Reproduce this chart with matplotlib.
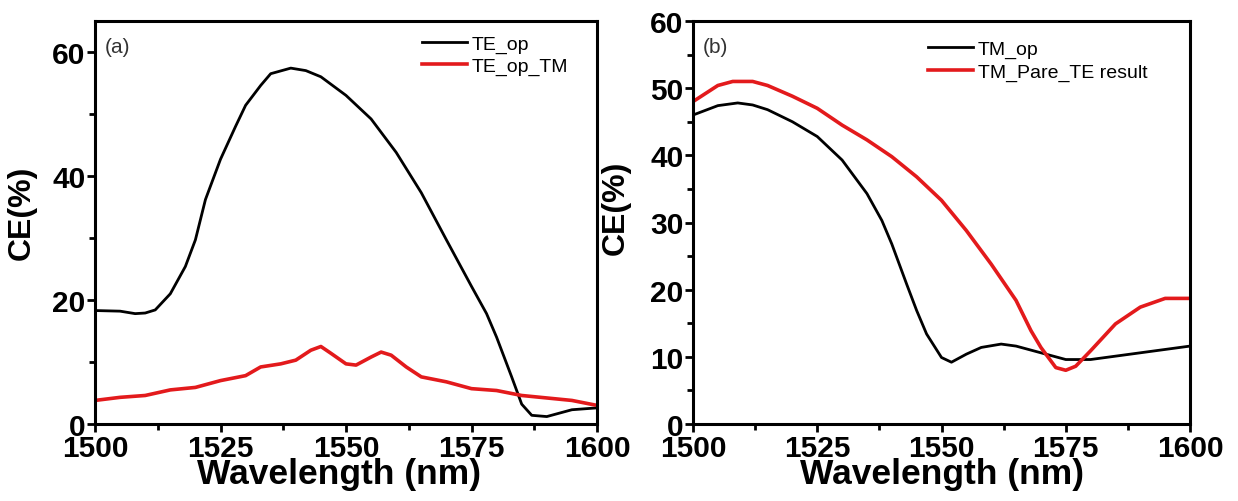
import matplotlib
matplotlib.use("Agg")
import matplotlib.pyplot as plt
from matplotlib.ticker import MultipleLocator

plt.rcParams['font.family'] = ['Liberation Sans', 'DejaVu Sans']

# Panel (a)
te_op_x = [1500, 1505, 1508, 1510, 1512, 1515, 1518, 1520, 1522, 1525, 1528, 1530, 1533, 1535,
           1539, 1542, 1545, 1550, 1555, 1560, 1565, 1570, 1575, 1578, 1580, 1583, 1585, 1587,
           1590, 1595, 1600]
te_op_y = [18.3, 18.2, 17.8, 17.9, 18.4, 21.0, 25.4, 29.7, 36.2, 42.7, 48.0, 51.4, 54.6, 56.5,
           57.4, 57.0, 56.0, 53.0, 49.2, 43.8, 37.3, 29.7, 22.2, 17.8, 14.0, 7.6, 3.2, 1.4,
           1.2, 2.3, 2.6]
te_op_tm_x = [1500, 1505, 1510, 1515, 1520, 1525, 1530, 1533, 1537, 1540, 1543, 1545, 1547, 1550,
              1552, 1555, 1557, 1559, 1562, 1565, 1570, 1575, 1580, 1585, 1590, 1595, 1600]
te_op_tm_y = [3.8, 4.3, 4.6, 5.5, 5.9, 7.0, 7.8, 9.2, 9.7, 10.3, 11.9, 12.5, 11.4, 9.7,
              9.5, 10.8, 11.6, 11.1, 9.2, 7.6, 6.8, 5.7, 5.4, 4.6, 4.2, 3.8, 3.0]

# Panel (b)
tm_op_x = [1500, 1505, 1509, 1512, 1515, 1520, 1525, 1530, 1535, 1538, 1540, 1543, 1545, 1547,
           1550, 1552, 1555, 1558, 1562, 1565, 1570, 1575, 1580, 1585, 1590, 1595, 1600]
tm_op_y = [46.0, 47.4, 47.8, 47.5, 46.8, 45.0, 42.8, 39.3, 34.3, 30.3, 26.8, 20.8, 16.9, 13.4,
           9.9, 9.2, 10.4, 11.4, 11.9, 11.6, 10.6, 9.6, 9.6, 10.1, 10.6, 11.1, 11.6]
tm_pare_x = [1500, 1505, 1508, 1512, 1515, 1520, 1525, 1530, 1535, 1540, 1545, 1550, 1555, 1560,
             1565, 1568, 1570, 1573, 1575, 1577, 1580, 1585, 1590, 1595, 1600]
tm_pare_y = [48.0, 50.4, 51.0, 51.0, 50.4, 48.8, 47.0, 44.5, 42.3, 39.8, 36.8, 33.3, 28.8, 23.8,
             18.4, 13.9, 11.4, 8.4, 8.0, 8.6, 10.9, 14.9, 17.4, 18.7, 18.7]

xticks = [1500, 1525, 1550, 1575, 1600]

fig = plt.figure(figsize=(12.38, 5.02), dpi=100)
ax1 = fig.add_axes([95/1238, 77/502, 502/1238, 403/502])
ax2 = fig.add_axes([693/1238, 77/502, 497/1238, 403/502])

def style(ax, ylim, ymajor, yminor, label, leg_anchor, ylab_xy, xlab_x):
    ax.set_xlim(1500, 1600)
    ax.set_ylim(*ylim)
    ax.set_xticks(xticks)
    ax.xaxis.set_minor_locator(MultipleLocator(12.5))
    ax.yaxis.set_major_locator(MultipleLocator(ymajor))
    ax.yaxis.set_minor_locator(MultipleLocator(yminor))
    for s in ax.spines.values():
        s.set_linewidth(2.2)
    ax.tick_params(which='major', direction='out', length=6, width=2, labelsize=21.5, pad=1)
    ax.tick_params(which='minor', direction='out', length=4, width=2)
    for t in ax.get_xticklabels() + ax.get_yticklabels():
        t.set_fontweight('bold')
    ax.set_xlabel('Wavelength (nm)', fontsize=25.5, fontweight='bold')
    ax.xaxis.set_label_coords(xlab_x, -0.083)
    ax.set_ylabel('CE(%)', fontsize=23, fontweight='bold')
    ax.yaxis.set_label_coords(*ylab_xy)
    ax.text(0.02, 0.96, label, transform=ax.transAxes, fontsize=15, color='#333333',
            va='top', ha='left')
    ax.legend(loc='upper left', frameon=False, fontsize=14, handlelength=2.3,
              handletextpad=0.25, labelspacing=0.25, borderaxespad=0,
              bbox_to_anchor=leg_anchor)

ax1.plot(te_op_x, te_op_y, color='black', lw=2, label='TE_op')
ax1.plot(te_op_tm_x, te_op_tm_y, color='#e31a1c', lw=2.6, label='TE_op_TM')
style(ax1, (0, 65), 20, 10, '(a)', (0.636, 0.985), (-0.117, 0.526), 0.487)

ax2.plot(tm_op_x, tm_op_y, color='black', lw=2, label='TM_op')
ax2.plot(tm_pare_x, tm_pare_y, color='#e31a1c', lw=2.6, label='TM_Pare_TE result')
style(ax2, (0, 60), 10, 5, '(b)', (0.458, 0.972), (-0.126, 0.538), 0.5)

fig.savefig('out.png', dpi=100)
